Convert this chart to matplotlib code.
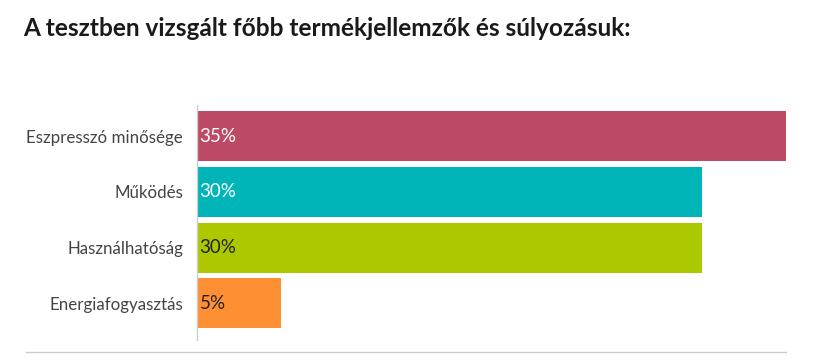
import matplotlib
matplotlib.use("Agg")
import matplotlib.pyplot as plt
from matplotlib.lines import Line2D

title = "A tesztben vizsgált főbb termékjellemzők és súlyozásuk:"
categories = ["Eszpresszó minősége", "Működés", "Használhatóság", "Energiafogyasztás"]
values = [35, 30, 30, 5]
value_labels = ["35%", "30%", "30%", "5%"]
colors = ["#BC4A64", "#00B5B8", "#AEC800", "#FF8F33"]
label_colors = ["white", "white", "#222222", "#222222"]

W, H = 814, 364
fig = plt.figure(figsize=(W / 100, H / 100), dpi=100)
fig.patch.set_facecolor("white")

x0, x1 = 197, 786
y0, y1 = 105, 340
ax = fig.add_axes([x0 / W, 1 - y1 / H, (x1 - x0) / W, (y1 - y0) / H])
ypos = list(range(len(categories)))
ax.barh(ypos, values, height=0.9, color=colors)
ax.set_xlim(0, 35)
ax.set_ylim(3.66, -0.56)
for s in ["top", "right", "bottom"]:
    ax.spines[s].set_visible(False)
ax.spines["left"].set_color("#cccccc")
ax.spines["left"].set_linewidth(1)
ax.set_xticks([])
ax.set_yticks(ypos)
ax.set_yticklabels(categories, fontsize=12.2, color="#444444", family="Lato")
ax.tick_params(axis="y", length=0, pad=10)

for y, v, lab, c in zip(ypos, values, value_labels, label_colors):
    ax.text(0.15, y, lab, va="center", ha="left", color=c, fontsize=13.5, family="Lato")

fig.text(23 / W, 1 - 28 / H, title, fontsize=17.6, fontweight="bold", family="Lato",
         color="#1a1a1a", va="center", ha="left")

fig.add_artist(Line2D([26 / W, 786 / W], [1 - 352 / H, 1 - 352 / H],
                      transform=fig.transFigure, color="#cccccc", linewidth=1))

fig.savefig("out.png", dpi=100)
